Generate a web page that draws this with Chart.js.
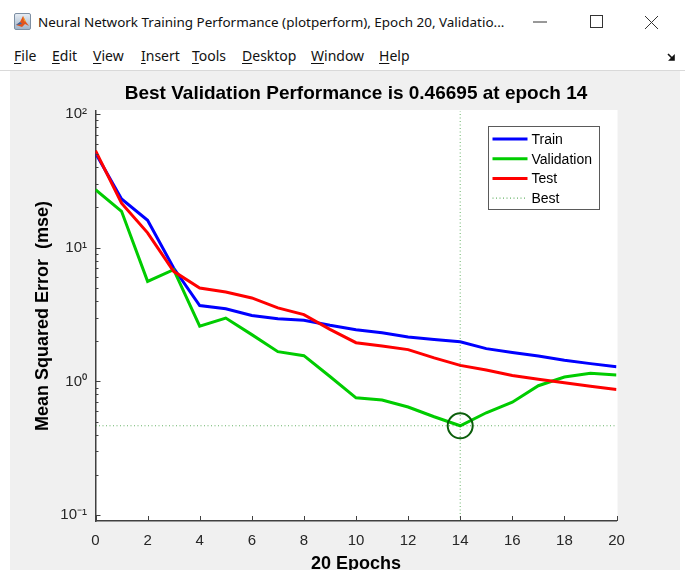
<!DOCTYPE html>
<html>
<head>
<meta charset="utf-8">
<script src="https://cdn.jsdelivr.net/npm/chart.js@4.4.1/dist/chart.umd.min.js"></script>
<style>
html,body{margin:0;padding:0;background:#fff;width:685px;height:571px;overflow:hidden;font-family:"Noto Sans",sans-serif;}
#titlebar{position:absolute;left:0;top:0;width:685px;height:42px;background:#fff;}
#icon{position:absolute;left:14px;top:13px;}
#title{position:absolute;left:38px;top:11px;font-size:14px;color:#111;white-space:nowrap;line-height:22px;}
.wbtn{position:absolute;}
.menu{position:absolute;top:45px;font-size:14px;line-height:22px;color:#111;white-space:nowrap;}
.menu u{text-decoration:underline;text-underline-offset:2px;text-decoration-thickness:1px;}
#sep{position:absolute;left:0;top:70px;width:685px;height:1px;background:#d9d9d9;}
#fig{position:absolute;left:10px;top:71px;width:670px;height:499px;background:#f0f0f0;overflow:hidden;}
#fig canvas{position:absolute;left:0;top:0;}
</style>
</head>
<body>
<div id="titlebar">
  <svg id="icon" width="17" height="17" viewBox="0 0 17 17">
    <defs><linearGradient id="g" x1="0" y1="0" x2="0" y2="1"><stop offset="0" stop-color="#e8eef5"/><stop offset="1" stop-color="#9fb3c8"/></linearGradient></defs>
    <rect x="0.5" y="0.5" width="16" height="16" rx="1.5" fill="url(#g)" stroke="#7d8fa3"/>
    <path d="M2 12 L6 9 L9 3 L12 9 L15 13 L11 11 L8 14 Z" fill="#e2531c"/>
    <path d="M2 12 L6 9 L8 11 Z" fill="#2a6fb5"/>
    <path d="M9 3 L12 9 L10 8 Z" fill="#f5a623"/>
  </svg>
  <div id="title">Neural Network Training Performance (plotperform), Epoch 20, Validatio...</div>
  <svg class="wbtn" style="left:533px;top:21px" width="14" height="2"><line x1="0" y1="1" x2="14" y2="1" stroke="#333" stroke-width="1"/></svg>
  <svg class="wbtn" style="left:590px;top:15px" width="14" height="14"><rect x="0.5" y="0.5" width="12" height="12" fill="none" stroke="#333" stroke-width="1"/></svg>
  <svg class="wbtn" style="left:644px;top:15px" width="15" height="15"><path d="M1 1 L14 14 M14 1 L1 14" stroke="#333" stroke-width="1"/></svg>
</div>
<div class="menu" style="left:14px"><u>F</u>ile</div>
<div class="menu" style="left:52px"><u>E</u>dit</div>
<div class="menu" style="left:93px"><u>V</u>iew</div>
<div class="menu" style="left:141px"><u>I</u>nsert</div>
<div class="menu" style="left:192px"><u>T</u>ools</div>
<div class="menu" style="left:242px"><u>D</u>esktop</div>
<div class="menu" style="left:311px"><u>W</u>indow</div>
<div class="menu" style="left:379px"><u>H</u>elp</div>
<svg style="position:absolute;left:667px;top:53px" width="9" height="9" viewBox="0 0 9 9"><path d="M1 1 L6 6 M3 7 L7 7 L7 3 Z" stroke="#111" stroke-width="1.6" fill="#111"/></svg>
<div id="sep"></div>
<div id="fig"><canvas id="c" width="670" height="520" style="width:670px;height:520px"></canvas></div>

<script>
// ---- data ----
const epochs      = [0,1,2,3,4,5,6,7,8,9,10,11,12,13,14,15,16,17,18,19,20];
const trainPerf   = [50.9,23.1,16.0,7.05,3.69,3.49,3.11,2.94,2.87,2.63,2.44,2.31,2.15,2.06,1.98,1.76,1.65,1.55,1.44,1.36,1.29];
const validPerf   = [27.1,18.7,5.6,6.85,2.59,2.98,2.24,1.67,1.56,1.09,0.755,0.726,0.645,0.545,0.46695,0.584,0.70,0.93,1.08,1.15,1.12];
const testPerf    = [53.0,21.5,12.9,6.65,5.0,4.67,4.21,3.55,3.16,2.45,1.95,1.84,1.73,1.50,1.32,1.22,1.11,1.04,0.98,0.92,0.87];
const bestEpoch   = 14;
const bestPerf    = 0.46695;
const xTickValues = [0,2,4,6,8,10,12,14,16,18,20];
const yDecades    = [0.1,1,10,100];
const yDecadeText = ['10\u207B\u00B9','10\u2070','10\u00B9','10\u00B2'];
const Y_MIN = 0.0907, Y_MAX = 105;
const X_MIN = 0, X_MAX = 20;

const FONT = '"Liberation Sans", Arial, sans-serif';

function pts(xs, ys){ return xs.map((x,i)=>({x:x, y:ys[i]})); }

// minor + major ticks on the log axis
function logTicks(){
  const out = [];
  for (let d = 0; d < yDecades.length - 1; d++) {
    for (let m = 1; m <= 9; m++) out.push(yDecades[d]*m);
  }
  out.push(yDecades[yDecades.length-1]);
  return out.filter(v => v >= Y_MIN && v <= Y_MAX);
}
function decadeIndex(v){
  for (let i=0;i<yDecades.length;i++) if (Math.abs(v/yDecades[i]-1) < 1e-6) return i;
  return -1;
}

const axesBackground = {
  id: 'axesBackground',
  beforeDraw(chart){
    const a = chart.chartArea, ctx = chart.ctx;
    ctx.save();
    ctx.fillStyle = '#ffffff';
    ctx.fillRect(a.left, a.top - 1, a.right - a.left + 1, a.bottom - a.top + 1);
    ctx.restore();
  }
};

const innerTicks = {
  id: 'innerTicks',
  afterDraw(chart){
    const ctx = chart.ctx, xs = chart.scales.x, ys = chart.scales.y;
    const a = chart.chartArea;
    ctx.save();
    ctx.strokeStyle = '#404040';
    ctx.lineWidth = 1;
    xs.ticks.forEach(t=>{
      const px = Math.round(xs.getPixelForValue(t.value)) + 0.5;
      ctx.beginPath(); ctx.moveTo(px, a.bottom); ctx.lineTo(px, a.bottom-5); ctx.stroke();
    });
    ys.ticks.forEach(t=>{
      const py = Math.round(ys.getPixelForValue(t.value)) + 0.5;
      const len = decadeIndex(t.value) >= 0 ? 5 : 3;
      ctx.beginPath(); ctx.moveTo(a.left, py); ctx.lineTo(a.left+len, py); ctx.stroke();
    });
    ctx.restore();
  }
};

const boxLegend = {
  id: 'boxLegend',
  afterDraw(chart){
    const ctx = chart.ctx, a = chart.chartArea;
    const items = chart.data.datasets.filter(d => d.inLegend);
    const bx = a.right - 129, by = a.top + 15, bw = 111, bh = 83;
    ctx.save();
    ctx.fillStyle = '#fff';
    ctx.fillRect(bx, by, bw, bh);
    ctx.strokeStyle = '#5a5a5a';
    ctx.lineWidth = 1;
    ctx.strokeRect(Math.round(bx)+0.5, Math.round(by)+0.5, bw, bh);
    items.forEach((d, i) => {
      const y = by + 13 + i*19.7;
      ctx.beginPath();
      ctx.setLineDash(d.borderDash || []);
      ctx.strokeStyle = d.legendColor || d.borderColor;
      ctx.lineWidth = d.borderWidth;
      ctx.moveTo(bx+5, y); ctx.lineTo(bx+40, y); ctx.stroke();
      ctx.setLineDash([]);
      ctx.fillStyle = '#000';
      ctx.font = '14px ' + FONT;
      ctx.textBaseline = 'middle';
      ctx.textAlign = 'left';
      ctx.fillText(d.label, bx+44, y+1);
    });
    ctx.restore();
  }
};

const dotted = 'rgba(0,128,0,0.6)';

new Chart(document.getElementById('c'), {
  type: 'line',
  data: {
    datasets: [
      { label:'Train', data: pts(epochs, trainPerf), borderColor:'#0000ff', borderWidth:3, pointRadius:0, tension:0, order:5, inLegend:true },
      { label:'Validation', data: pts(epochs, validPerf), borderColor:'#00cc00', borderWidth:3, pointRadius:0, tension:0, order:4, inLegend:true },
      { label:'Test', data: pts(epochs, testPerf), borderColor:'#ff0000', borderWidth:3, pointRadius:0, tension:0, order:3, inLegend:true },
      { label:'Best', data: [{x:X_MIN, y:bestPerf},{x:X_MAX, y:bestPerf}], borderColor:dotted, legendColor:'rgba(0,128,0,0.75)', borderWidth:1, borderDash:[1,2.5], pointRadius:0, order:2, inLegend:true },
      { label:'BestV', data: [{x:bestEpoch, y:Y_MIN},{x:bestEpoch, y:Y_MAX}], borderColor:dotted, borderWidth:1, borderDash:[1,2.5], pointRadius:0, order:1 },
      { label:'BestPoint', data: [{x:bestEpoch, y:bestPerf}], showLine:false, pointRadius:12.5, pointHoverRadius:12.5, pointBorderWidth:2, pointBackgroundColor:'rgba(0,0,0,0)', pointBorderColor:'#0b5e0b', borderColor:'#0b5e0b', order:0 }
    ]
  },
  options: {
    responsive: false,
    animation: false,
    events: [],
    layout: { padding: { left:0, right:63.5, top:0, bottom:0 } },
    plugins: {
      legend: { display:false },
      tooltip: { enabled:false },
      title: {
        display: true, fullSize: false,
        text: 'Best Validation Performance is 0.46695 at epoch 14',
        color: '#000',
        font: { family: FONT, size: 19, weight: 'bold', lineHeight: 1.2 },
        padding: { top: 11.6, bottom: 5.6 }
      }
    },
    scales: {
      x: {
        type: 'linear', min: X_MIN, max: X_MAX,
        afterFit(s){ s.height = 70; },
        afterBuildTicks(s){ s.ticks = xTickValues.map(v=>({value:v})); },
        ticks: { autoSkip:false, maxRotation:0, color:'#262626', padding:10.5, font:{family:FONT, size:15} },
        grid: { display:true, drawOnChartArea:false, drawTicks:false },
        border: { display:true, color:'#404040', width:1.5 },
        title: { display:true, text:'20 Epochs', color:'#000', font:{family:FONT, size:18, weight:'bold', lineHeight:1.2}, padding:{top:0, bottom:16.2} }
      },
      y: {
        type: 'logarithmic', min: Y_MIN, max: Y_MAX,
        afterFit(s){ s.width = 85.5; },
        afterBuildTicks(s){ s.ticks = logTicks().map(v=>({value:v})); },
        ticks: {
          autoSkip:false, color:'#262626', padding:8.5, font:{family:FONT, size:15},
          callback(v){ const i = decadeIndex(v); return i >= 0 ? yDecadeText[i] : ''; }
        },
        grid: { display:true, drawOnChartArea:false, drawTicks:false },
        border: { display:true, color:'#404040', width:1.5 },
        title: { display:true, text:'Mean Squared Error  (mse)', color:'#000', font:{family:FONT, size:18, weight:'bold', lineHeight:1.2}, padding:{top:22.2, bottom:0} }
      }
    }
  },
  plugins: [axesBackground, innerTicks, boxLegend]
});

// fit window title text to the reference width
function fitWidth(el, target){
  const w = el.getBoundingClientRect().width;
  if (w > 0) { const fs = parseFloat(getComputedStyle(el).fontSize); el.style.fontSize = (fs*target/w) + 'px'; }
}
fitWidth(document.getElementById('title'), 467);
</script>
</body>
</html>
